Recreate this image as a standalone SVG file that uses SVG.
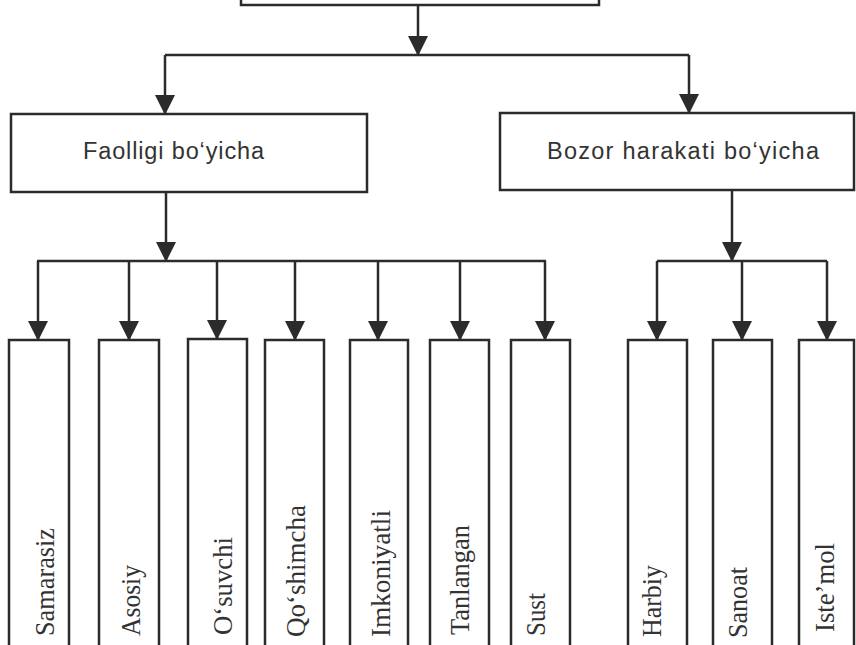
<svg xmlns="http://www.w3.org/2000/svg" width="856" height="645" viewBox="0 0 856 645">
  <defs>
    <style>
      .box{fill:#fff;stroke:#2b2b2b;stroke-width:2.5}
      .wire{fill:none;stroke:#2b2b2b;stroke-width:2.5}
      .arrow{fill:none;stroke:#2b2b2b;stroke-width:2.5;marker-end:url(#head)}
      .lbl{font-family:"Liberation Sans",Arial,sans-serif;font-size:23.5px;fill:#333}
      .vlbl{font-family:"Liberation Serif","Times New Roman",serif;font-size:28px;fill:#333}
    </style>
    <marker id="head" viewBox="0 0 20 20" refX="19" refY="10" markerWidth="20" markerHeight="20" markerUnits="userSpaceOnUse" orient="auto">
      <path d="M0,0 L20,10 L0,20 z" fill="#2b2b2b"/>
    </marker>
  </defs>
  <rect width="856" height="645" fill="#fff"/>

  <!-- root box (top edge lies above the page) -->
  <g id="root">
    <rect class="box" x="241" y="-60" width="358" height="65"/>
  </g>

  <!-- second level -->
  <g id="faolligi">
    <rect class="box" x="11" y="114" width="356" height="78"/>
    <text class="lbl" x="83" y="159" textLength="181" lengthAdjust="spacing">Faolligi bo‘yicha</text>
  </g>
  <g id="bozor">
    <rect class="box" x="500" y="113" width="354" height="77"/>
    <text class="lbl" x="547" y="159" textLength="272" lengthAdjust="spacing">Bozor harakati bo‘yicha</text>
  </g>

  <!-- leaf columns, running off the bottom of the page -->
  <g id="samarasiz">
    <rect class="box" x="9" y="340" width="60" height="320"/>
    <text class="vlbl" transform="translate(54,636) rotate(-90)" textLength="108" lengthAdjust="spacingAndGlyphs">Samarasiz</text>
  </g>
  <g id="asosiy">
    <rect class="box" x="99" y="340" width="60" height="320"/>
    <text class="vlbl" transform="translate(140,636) rotate(-90)" textLength="71" lengthAdjust="spacingAndGlyphs">Asosiy</text>
  </g>
  <g id="osuvchi">
    <rect class="box" x="188" y="339" width="59" height="320"/>
    <text class="vlbl" transform="translate(232,635) rotate(-90)" textLength="98" lengthAdjust="spacingAndGlyphs">O‘suvchi</text>
  </g>
  <g id="qoshimcha">
    <rect class="box" x="265" y="340" width="59" height="320"/>
    <text class="vlbl" transform="translate(305,637) rotate(-90)" textLength="132" lengthAdjust="spacingAndGlyphs">Qo‘shimcha</text>
  </g>
  <g id="imkoniyatli">
    <rect class="box" x="350" y="340" width="58" height="320"/>
    <text class="vlbl" transform="translate(390,637) rotate(-90)" textLength="127" lengthAdjust="spacingAndGlyphs">Imkoniyatli</text>
  </g>
  <g id="tanlangan">
    <rect class="box" x="430" y="340" width="59" height="320"/>
    <text class="vlbl" transform="translate(469,635) rotate(-90)" textLength="110" lengthAdjust="spacingAndGlyphs">Tanlangan</text>
  </g>
  <g id="sust">
    <rect class="box" x="511" y="340" width="59" height="320"/>
    <text class="vlbl" transform="translate(545,636) rotate(-90)" textLength="43" lengthAdjust="spacingAndGlyphs">Sust</text>
  </g>
  <g id="harbiy">
    <rect class="box" x="628" y="340" width="59" height="320"/>
    <text class="vlbl" transform="translate(661,637) rotate(-90)" textLength="72" lengthAdjust="spacingAndGlyphs">Harbiy</text>
  </g>
  <g id="sanoat">
    <rect class="box" x="713" y="340" width="59" height="320"/>
    <text class="vlbl" transform="translate(747,638) rotate(-90)" textLength="71" lengthAdjust="spacingAndGlyphs">Sanoat</text>
  </g>
  <g id="istemol">
    <rect class="box" x="799" y="340" width="55" height="320"/>
    <text class="vlbl" transform="translate(834,632) rotate(-90)" textLength="89" lengthAdjust="spacingAndGlyphs">Iste’mol</text>
  </g>

  <!-- connectors -->
  <g id="connectors">
    <path class="arrow" d="M418,5 V55"/>
    <path class="wire" d="M165,55 H689"/>
    <path class="arrow" d="M165,55 V114"/>
    <path class="arrow" d="M689,55 V113"/>

    <path class="arrow" d="M166,192 V261"/>
    <path class="wire" d="M37,261 H546"/>
    <path class="arrow" d="M38,261 V340"/>
    <path class="arrow" d="M129,261 V340"/>
    <path class="arrow" d="M217,261 V339"/>
    <path class="arrow" d="M295,261 V340"/>
    <path class="arrow" d="M378,261 V340"/>
    <path class="arrow" d="M460,261 V340"/>
    <path class="arrow" d="M545,261 V340"/>

    <path class="arrow" d="M732,190 V261"/>
    <path class="wire" d="M657,261 H827"/>
    <path class="arrow" d="M657,261 V340"/>
    <path class="arrow" d="M742,261 V340"/>
    <path class="arrow" d="M827,261 V340"/>
  </g>
</svg>
